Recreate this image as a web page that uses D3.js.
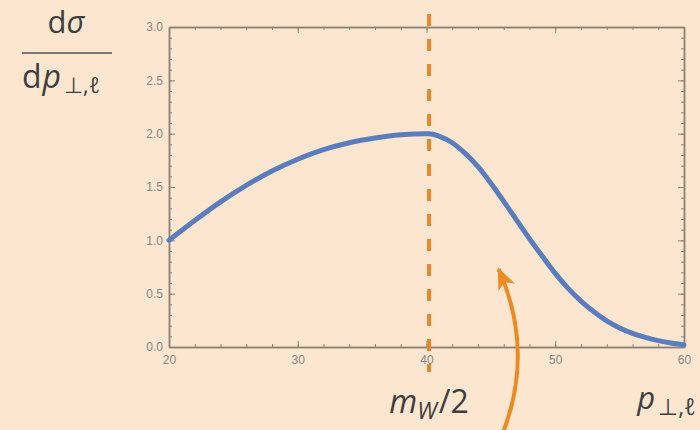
<!DOCTYPE html>
<html lang="en">
<head>
<meta charset="utf-8">
<title>Lepton transverse momentum</title>
<script src="https://cdn.jsdelivr.net/npm/d3@7"></script>
<style>
body { margin: 0; background: #fce6cf; }
.axis text { font-family: "Liberation Sans", sans-serif; font-size: 12px; fill: #8a8580; }
.axis line, .axis path { stroke: #8b8378; }
.big { font-family: "Open Sans", sans-serif; fill: #3f3f3f; }
</style>
</head>
<body>
<script>
// p_T of the lepton (GeV) and the distribution dsigma/dp_T
var pT   = [20, 22, 24, 26, 28, 30, 32, 34, 36, 38, 40, 40.2, 41, 42, 43, 44, 45, 46, 47, 48, 49, 50, 51, 52, 53, 54, 55, 56, 57, 58, 59, 60];
var xsec = [1.00, 1.185, 1.36, 1.515, 1.65, 1.76, 1.85, 1.915, 1.96, 1.99, 2.00, 2.00, 1.975, 1.915, 1.815, 1.69, 1.535, 1.365, 1.19, 1.015, 0.85, 0.69, 0.55, 0.43, 0.33, 0.245, 0.178, 0.128, 0.09, 0.06, 0.037, 0.02];

var xTicks = [20, 30, 40, 50, 60];
var yTicks = [0, 0.5, 1.0, 1.5, 2.0, 2.5, 3.0];
var halfMW = 40.2;

// arrow (data units): start, control, tip
var arrowPts = [[45.95, -0.80], [48.4, -0.03], [45.6, 0.73]];

var w = 700, h = 430;

var svg = d3.select("body")
            .append("svg")
            .attr("width", w)
            .attr("height", h);

svg.append("rect").attr("width", w).attr("height", h).attr("fill", "#fce6cf");

var x = d3.scaleLinear().domain([20, 60]).range([169, 684]);
var y = d3.scaleLinear().domain([0, 3]).range([347, 27]);

// frame: bottom / left with labels, top / right without
svg.append("g").attr("class", "axis")
   .attr("transform", "translate(0," + y(0) + ")")
   .call(d3.axisBottom(x).tickValues(xTicks).tickSize(-6).tickSizeOuter(0).tickPadding(8).tickFormat(d3.format("d")));
svg.append("g").attr("class", "axis minor")
   .attr("transform", "translate(0," + y(0) + ")")
   .call(d3.axisBottom(x).tickValues(d3.range(20, 61, 2)).tickSize(-3).tickSizeOuter(0).tickFormat(""));

svg.append("g").attr("class", "axis")
   .attr("transform", "translate(" + x(20) + ",0)")
   .call(d3.axisLeft(y).tickValues(yTicks).tickSize(-6).tickSizeOuter(0).tickPadding(6).tickFormat(d3.format(".1f")));
svg.append("g").attr("class", "axis minor")
   .attr("transform", "translate(" + x(20) + ",0)")
   .call(d3.axisLeft(y).tickValues(d3.range(0, 3.01, 0.1)).tickSize(-3).tickSizeOuter(0).tickFormat(""));

svg.append("g").attr("class", "axis")
   .attr("transform", "translate(0," + y(3) + ")")
   .call(d3.axisTop(x).tickValues(xTicks).tickSize(-6).tickSizeOuter(0).tickFormat(""));
svg.append("g").attr("class", "axis minor")
   .attr("transform", "translate(0," + y(3) + ")")
   .call(d3.axisTop(x).tickValues(d3.range(20, 61, 2)).tickSize(-3).tickSizeOuter(0).tickFormat(""));

svg.append("g").attr("class", "axis")
   .attr("transform", "translate(" + x(60) + ",0)")
   .call(d3.axisRight(y).tickValues(yTicks).tickSize(-6).tickSizeOuter(0).tickFormat(""));
svg.append("g").attr("class", "axis minor")
   .attr("transform", "translate(" + x(60) + ",0)")
   .call(d3.axisRight(y).tickValues(d3.range(0, 3.01, 0.1)).tickSize(-3).tickSizeOuter(0).tickFormat(""));

svg.selectAll(".axis path.domain").attr("stroke-width", 1.5);
svg.selectAll(".axis line").attr("stroke-width", 1);

// the distribution
var line = d3.line()
             .x(function(d, i) { return x(pT[i]); })
             .y(function(d) { return y(d); })
             .curve(d3.curveMonotoneX);

svg.append("path")
   .datum(xsec)
   .attr("d", line)
   .attr("fill", "none")
   .attr("stroke", "#5a7ebd")
   .attr("stroke-width", 5)
   .attr("stroke-linecap", "round");

// Jacobian peak at m_W/2
svg.append("line")
   .attr("x1", x(halfMW)).attr("x2", x(halfMW))
   .attr("y1", 14).attr("y2", 372)
   .attr("stroke", "#e8862a")
   .attr("stroke-width", 4)
   .attr("stroke-dasharray", "12,13");

// curved arrow
svg.append("defs").append("marker")
   .attr("id", "head")
   .attr("markerUnits", "userSpaceOnUse")
   .attr("viewBox", "-22 -10 24 20")
   .attr("markerWidth", 24).attr("markerHeight", 20)
   .attr("refX", 0).attr("refY", 0)
   .attr("orient", "auto")
   .append("path")
   .attr("d", "M2,0 L-20,-9 L-14,0 L-20,9 Z")
   .attr("fill", "#ee8a22");

var ap = arrowPts.map(function(p) { return [x(p[0]), y(p[1])]; });
svg.append("path")
   .attr("d", "M" + ap[0] + " Q" + ap[1] + " " + ap[2])
   .attr("fill", "none")
   .attr("stroke", "#ee8a22")
   .attr("stroke-width", 4)
   .attr("marker-end", "url(#head)");

// labels
var mw = svg.append("text").attr("class", "big")
   .attr("x", x(halfMW)).attr("y", 413)
   .attr("text-anchor", "middle")
   .attr("font-size", 32);
mw.append("tspan").attr("font-style", "italic").text("m");
mw.append("tspan").attr("font-style", "italic").attr("font-size", 23).attr("dy", 6).text("W");
mw.append("tspan").attr("dy", -6).attr("dx", 2).text("/2");

var pl = svg.append("text").attr("class", "big")
   .attr("x", 696).attr("y", 409)
   .attr("text-anchor", "end")
   .attr("font-size", 31);
pl.append("tspan").attr("font-style", "italic").text("p");
pl.append("tspan").attr("font-size", 23).attr("dy", 6).attr("dx", 3).text("\u22A5,");
pl.append("tspan").attr("font-size", 23).attr("font-style", "italic").text("\u2113");

var ds = svg.append("text").attr("class", "big")
   .attr("x", 66).attr("y", 33)
   .attr("text-anchor", "middle")
   .attr("font-family", "Roboto, sans-serif")
   .attr("font-size", 31);
ds.append("tspan").text("d");
ds.append("tspan").attr("font-style", "italic").text("\u03C3");

svg.append("line")
   .attr("x1", 22).attr("x2", 112)
   .attr("y1", 53).attr("y2", 53)
   .attr("stroke", "#555")
   .attr("stroke-width", 1.5);

var dp = svg.append("text").attr("class", "big")
   .attr("x", 22).attr("y", 88)
   .attr("font-size", 32);
dp.append("tspan").text("d");
dp.append("tspan").attr("font-style", "italic").attr("dx", 1).text("p");
dp.append("tspan").attr("font-size", 22).attr("dy", 5).attr("dx", 3).text("\u22A5,");
dp.append("tspan").attr("font-size", 22).attr("font-style", "italic").text("\u2113");
</script>
</body>
</html>
